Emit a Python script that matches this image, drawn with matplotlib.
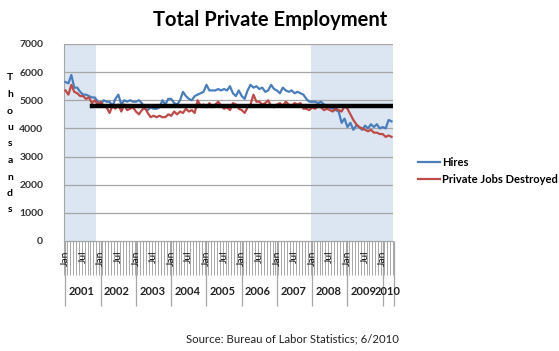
import matplotlib.pyplot as plt
import matplotlib.transforms as mtransforms
import numpy as np

plt.rcParams['font.family'] = ['Lato', 'DejaVu Sans']

# monthly values, thousands, Jan 2001 .. Apr 2010
hires = [
    5650, 5600, 5900, 5450, 5450, 5300, 5200, 5200, 5150, 5100, 5100, 4950,  # 2001
    4850, 5000, 4950, 4950, 4800, 5050, 5200, 4850, 5000, 4950, 5000, 4950,  # 2002
    4950, 5000, 4900, 4700, 4650, 4750, 4700, 4700, 4750, 5000, 4850, 5050,  # 2003
    5050, 4900, 4850, 5000, 5300, 5150, 5050, 5000, 5150, 5200, 5250, 5300,  # 2004
    5550, 5350, 5350, 5350, 5400, 5350, 5400, 5350, 5500, 5250, 5150, 5350,  # 2005
    5150, 5050, 5350, 5550, 5450, 5500, 5400, 5450, 5300, 5350, 5550, 5400,  # 2006
    5350, 5250, 5450, 5350, 5300, 5350, 5250, 5300, 5250, 5200, 5050, 4950,  # 2007
    4950, 4950, 4900, 4950, 4850, 4800, 4750, 4700, 4650, 4600, 4200, 4350,  # 2008
    4050, 4200, 3950, 4100, 4050, 3950, 4100, 4000, 4150, 4050, 4150, 4000,  # 2009
    4050, 4000, 4300, 4250,                                                  # 2010
]
destroyed = [
    5350, 5200, 5550, 5300, 5250, 5150, 5150, 5050, 5100, 4900, 5000, 4850,
    4950, 4800, 4750, 4550, 4800, 4700, 4850, 4600, 4850, 4650, 4700, 4750,
    4600, 4500, 4650, 4750, 4550, 4400, 4450, 4400, 4450, 4400, 4400, 4500,
    4450, 4600, 4500, 4600, 4550, 4700, 4600, 4650, 4550, 5000, 4800, 4850,
    4750, 4900, 4750, 4850, 4950, 4800, 4700, 4750, 4650, 4900, 4850, 4700,
    4650, 4550, 4750, 4850, 5200, 4950, 4950, 4850, 4900, 5000, 4800, 4750,
    4850, 4900, 4800, 4950, 4850, 4800, 4900, 4850, 4900, 4700, 4700, 4650,
    4750, 4700, 4800, 4750, 4650, 4700, 4650, 4600, 4700, 4650, 4600, 4800,
    4700, 4500, 4300, 4150, 4050, 4000, 3950, 3900, 3950, 3850, 3850, 3800,
    3800, 3700, 3750, 3700,
]
years = [str(y) for y in range(2001, 2011)]
month_labels = {0: 'Jan', 6: 'Jul'}
recession_months = list(range(0, 11)) + list(range(84, 112))
benchmark = 4800
benchmark_start = 9
yticks = [0, 1000, 2000, 3000, 4000, 5000, 6000, 7000]

n = len(hires)
x = np.arange(n)

fig = plt.figure(figsize=(5.59, 3.51), dpi=100)
ax = fig.add_axes([64 / 559, 1 - 241 / 351, 329 / 559, 197 / 351])

ax.bar(recession_months, [7000] * len(recession_months), width=1.0,
       color='#dce6f2', linewidth=0, zorder=0)
for v in yticks[1:]:
    ax.axhline(v, color='#a6a6a6', lw=0.9, zorder=1)

ax.plot(x, hires, color='#4a7ebb', lw=1.6, zorder=3, label='Hires')
ax.plot(x, destroyed, color='#be4b48', lw=1.6, zorder=3, label='Private Jobs Destroyed')
bx = np.arange(benchmark_start, n)
ax.plot(np.append(bx, n - 0.2), [benchmark] * (len(bx) + 1), color='black', lw=3.2, zorder=4)

ax.set_xlim(-0.5, n - 0.5)
ax.set_ylim(0, 7000)
ax.set_yticks(yticks)
ax.set_yticklabels([str(v) for v in yticks], fontsize=7.5, fontweight='bold', color='#333333')
ax.tick_params(axis='y', length=0, pad=15)
ax.set_xticks([])
for s in ['top', 'right', 'bottom']:
    ax.spines[s].set_visible(False)
ax.spines['left'].set_color('#a6a6a6')

# category axis: month ticks, month labels, year groups
trans = mtransforms.blended_transform_factory(ax.transData, ax.transAxes)
ax.vlines(np.arange(n + 1) - 0.5, -0.175, 0, color='#a8a8a8', lw=0.7,
          transform=trans, clip_on=False)
ax.plot([-0.5, n - 0.5], [0, 0], color='#a6a6a6', lw=0.9, transform=trans, clip_on=False)
for i in range(n):
    lab = month_labels.get(i % 12)
    if lab:
        ax.text(i, -0.05, lab, rotation=90, ha='center', va='top', fontsize=7.5,
                color='#111111', transform=trans)
ax.vlines(list(range(0, n, 12)) + [n], -0.33, 0, color='#a6a6a6', lw=0.9,
          transform=trans, clip_on=False)
for k, yr in enumerate(years):
    start = k * 12
    end = min(start + 12, n)
    ax.text((start + end - 1) / 2, -0.258, yr, ha='center', va='center', fontsize=8,
            fontweight='bold', color='#222222', transform=trans)

fig.text(270 / 559, 0.943, 'Total Private Employment', ha='center', va='center',
         fontsize=14.5, fontweight='bold')
for j, ch in enumerate('Thousands'):
    fig.text(10 / 559, 1 - (78 + j * 16.5) / 351, ch, ha='center', va='center',
             fontsize=7.5, fontweight='bold')
fig.text(292 / 559, 1 - 339 / 351, 'Source: Bureau of Labor Statistics; 6/2010',
         ha='center', va='center', fontsize=8.2, color='#222222')

ax.legend(loc='center left', bbox_to_anchor=(408 / 559, 1 - 171 / 351),
          bbox_transform=fig.transFigure, frameon=False,
          handlelength=2.0, handletextpad=0.2, labelspacing=0.6,
          prop={'weight': 'bold', 'size': 8})

fig.savefig('out.png', dpi=100)
